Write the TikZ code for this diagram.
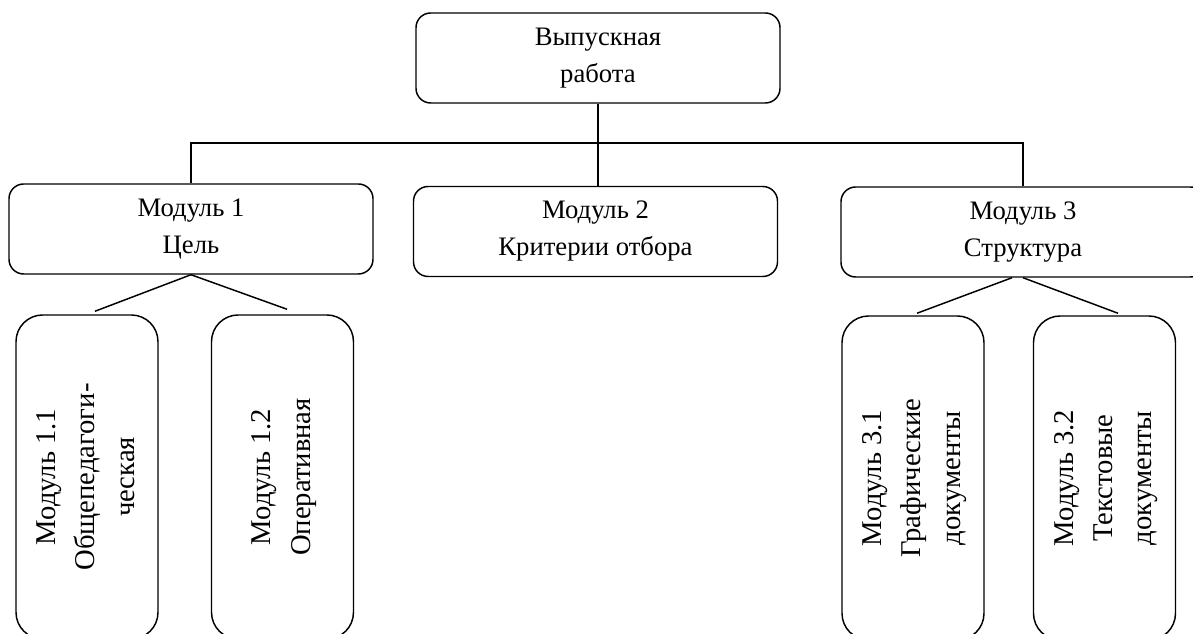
\documentclass[tikz,border=0pt]{standalone}
\usepackage{fontspec}
\setmainfont{Liberation Serif}
\usetikzlibrary{calc}
% text set bottom-to-top inside the tall module boxes
\newcommand{\uptext}[1]{\rotatebox{90}{\fontsize{21.5pt}{29.5pt}\selectfont\begin{tabular}{@{}c@{}}#1\end{tabular}}}
\begin{document}
\begin{tikzpicture}[x=0.75pt,y=0.75pt,
  box/.style={draw, line width=1.1pt, rounded corners=11pt, inner sep=0pt, align=center,
    font=\fontsize{20pt}{27.75pt}\selectfont, minimum width=273pt, minimum height=67.5pt},
  vbox/.style={draw, line width=1.1pt, rounded corners=20pt, inner sep=0pt,
    minimum width=106.5pt, minimum height=243pt},
  link/.style={line width=1.1pt}]
\useasboundingbox (0,0) rectangle (1193,634);
\clip (0,0) rectangle (1193,634);

% top level
\node[box] (top) at (598,576) {Выпускная\\работа};

% modules
\node[box] (m1) at (191,405) {Модуль 1\\Цель};
\node[box] (m2) at (595.5,402.5) {Модуль 2\\Критерии отбора};
\node[box] (m3) at (1023,402) {Модуль 3\\Структура};

% sub-modules
\node[vbox] (m11) at (87,157) {\uptext{Модуль 1.1\\Общепедагоги-\\ческая}};
\node[vbox] (m12) at (282.5,157) {\uptext{Модуль 1.2\\Оперативная}};
\node[vbox] (m31) at (913,156) {\uptext{Модуль 3.1\\Графические\\документы}};
\node[vbox] (m32) at (1104.5,156) {\uptext{Модуль 3.2\\Текстовые\\документы}};

% connectors
\coordinate (bus) at (598,491);
\draw[link] (top.south) -- (top.south |- m2.north);
\draw[link] (m1.north) -- (m1.north |- bus) -- (m3.north |- bus) -- (m3.north);
\draw[link] (m1.south) -- ($(m11.north)+(8,3)$);
\draw[link] (m1.south) -- ($(m12.north)+(4.5,5)$);
\draw[link] ($(m3.south)+(-11,0)$) -- ($(m31.north)+(4,2)$);
\draw[link] (m3.south) -- ($(m32.north)+(13.5,2)$);
\end{tikzpicture}
\end{document}
